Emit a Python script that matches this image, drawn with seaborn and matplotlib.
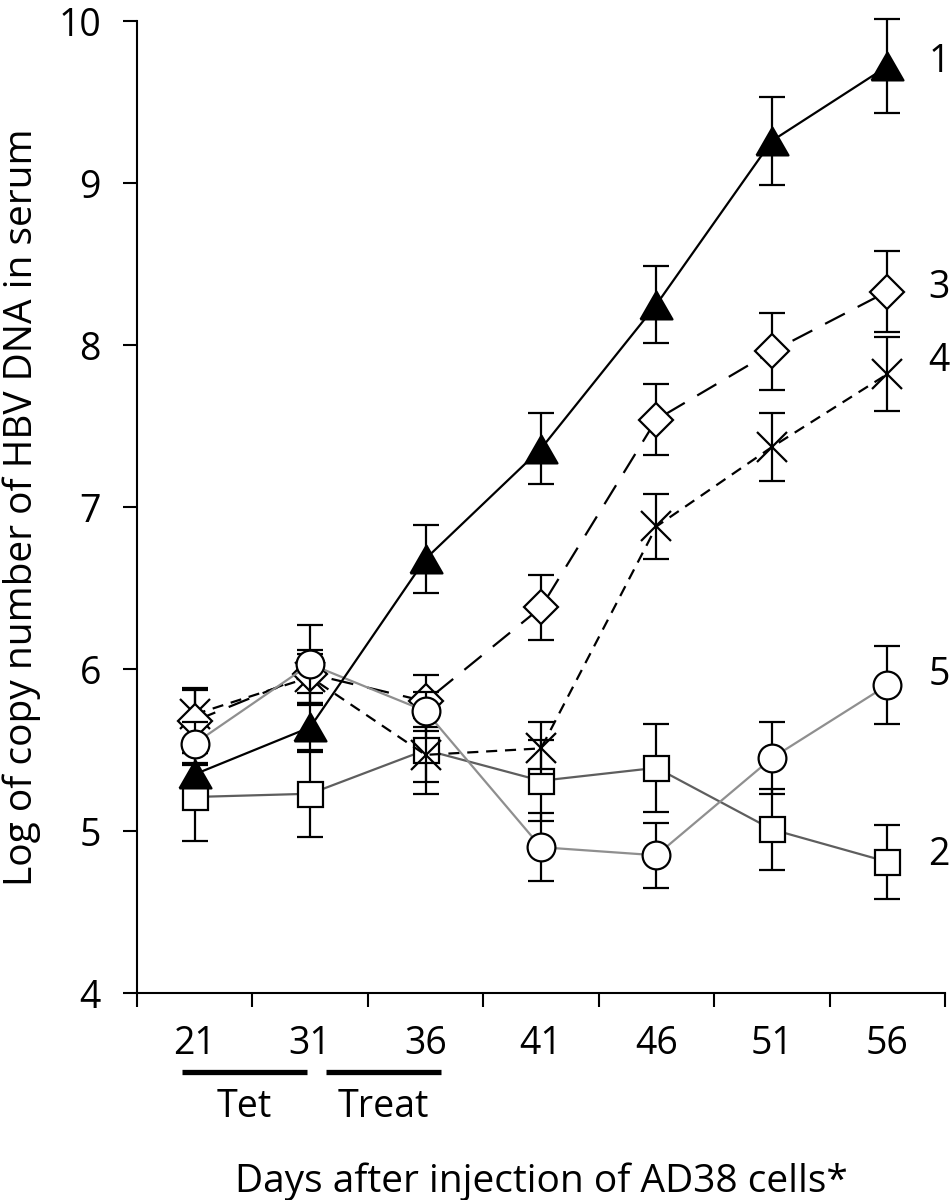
"""HBV DNA in serum after injection of AD38 cells, five groups."""
import numpy as np
import pandas as pd
import seaborn as sns
import matplotlib.pyplot as plt
from matplotlib.transforms import blended_transform_factory

days = ['21', '31', '36', '41', '46', '51', '56']
groups = ['1', '2', '3', '4', '5']

# mean log copy number and error bar half-length
g1_mean = [5.35, 5.64, 6.68, 7.36, 8.25, 9.26, 9.72]
g1_err = [0.07, 0.15, 0.21, 0.22, 0.24, 0.27, 0.29]
g2_mean = [5.21, 5.23, 5.50, 5.31, 5.39, 5.01, 4.81]
g2_err = [0.27, 0.27, 0.20, 0.25, 0.27, 0.25, 0.23]
g3_mean = [5.68, 5.97, 5.80, 6.38, 7.54, 7.96, 8.33]
g3_err = [0.20, 0.12, 0.16, 0.20, 0.22, 0.24, 0.25]
g4_mean = [5.72, 5.95, 5.47, 5.51, 6.88, 7.37, 7.82]
g4_err = [0.15, 0.17, 0.24, 0.16, 0.20, 0.21, 0.23]
g5_mean = [5.54, 6.03, 5.74, 4.90, 4.85, 5.45, 5.90]
g5_err = [0.13, 0.24, 0.12, 0.21, 0.20, 0.22, 0.24]

df = pd.DataFrame({
    'pos': np.tile(np.arange(len(days)), len(groups)),
    'group': np.repeat(groups, len(days)),
    'mean': g1_mean + g2_mean + g3_mean + g4_mean + g5_mean,
    'err': g1_err + g2_err + g3_err + g4_err + g5_err,
})

tri = [(-1, -0.87), (1, -0.87), (0, 0.87), (-1, -0.87)]
# group -> (line colour, dashes, marker, size, face, label offset)
# dict order is drawing order: later groups sit on top
styles = {
    '2': ('#5e5e5e', None, 's', 18, 'white', 0.04),
    '4': ('black', (5, 3.5), 'x', 21, 'none', 0.08),
    '3': ('black', (10, 6.5), 'D', 17.5, 'white', 0.02),
    '5': ('#8f8f8f', None, 'o', 20, 'white', 0.06),
    '1': ('black', None, tri, 23, 'black', 0.03),
}

sns.set_theme(style='ticks')
plt.rcParams['font.family'] = ['Open Sans', 'DejaVu Sans']
for key in ['text.color', 'axes.labelcolor', 'xtick.color', 'ytick.color',
            'axes.edgecolor']:
    plt.rcParams[key] = 'black'

fig = plt.figure(figsize=(9.5, 12), dpi=100)
ax = fig.add_axes([137 / 950, 1 - 993 / 1200, 808 / 950, 972 / 1200])

for i, (g, (lc, dash, mk, ms, fc, off)) in enumerate(styles.items()):
    sub = df[df['group'] == g]
    eb = ax.errorbar(sub['pos'], sub['mean'], yerr=sub['err'], fmt='none',
                     ecolor='black', elinewidth=1.6, capsize=9.5,
                     capthick=1.6, zorder=2 + 2 * i)
    for art in eb.lines[1] + eb.lines[2]:
        art.set_clip_on(False)
    kws = dict(color=lc, lw=1.6, marker=mk, ms=ms, mfc=fc, mec='black',
               mew=1.6, zorder=3 + 2 * i, legend=False, errorbar=None)
    if dash is not None:
        kws['dashes'] = dash
    sns.lineplot(data=sub, x='pos', y='mean', ax=ax, **kws)
    ax.text(6.45, sub['mean'].iloc[-1] + off, g, ha='center', va='center',
            fontsize=27)

ax.set_xlim(-0.5, 6.5)
ax.set_ylim(4, 10)
ax.set_xticks(np.arange(len(days)))
ax.set_xticklabels(days)
ax.set_xticks(np.arange(-0.5, len(days)), minor=True)
ax.set_yticks(np.arange(4, 11))
ax.tick_params(axis='x', which='major', length=0, pad=23, labelsize=27,
               labelcolor='black')
ax.tick_params(axis='x', which='minor', length=10, width=1.5,
               direction='out', color='black')
ax.tick_params(axis='y', length=10, width=1.5, pad=16, labelsize=27,
               direction='out', color='black', labelcolor='black')
sns.despine(ax=ax)
for sp in ['left', 'bottom']:
    ax.spines[sp].set_linewidth(1.5)
    ax.spines[sp].set_color('black')

ax.set_xlabel('Days after injection of AD38 cells*', fontsize=28)
ax.xaxis.label.set_va('baseline')
ax.xaxis.set_label_coords(0.5, (993 - 1192) / 972)
ax.set_ylabel('Log of copy number of HBV DNA in serum', fontsize=28)
ax.yaxis.label.set_va('baseline')
ax.yaxis.set_label_coords(-0.13, 0.5)

# treatment periods under the x axis
trans = blended_transform_factory(ax.transData, ax.transAxes)
for (x0, x1), name in [((-0.11, 0.97), 'Tet'), ((1.14, 2.13), 'Treat')]:
    ax.plot([x0, x1], [-0.0813, -0.0813], transform=trans, color='black',
            lw=3.8, solid_capstyle='butt', clip_on=False)
    ax.text((x0 + x1) / 2, -0.1276, name, transform=trans, ha='center',
            va='baseline', fontsize=27)

fig.savefig('out.png', dpi=100)
